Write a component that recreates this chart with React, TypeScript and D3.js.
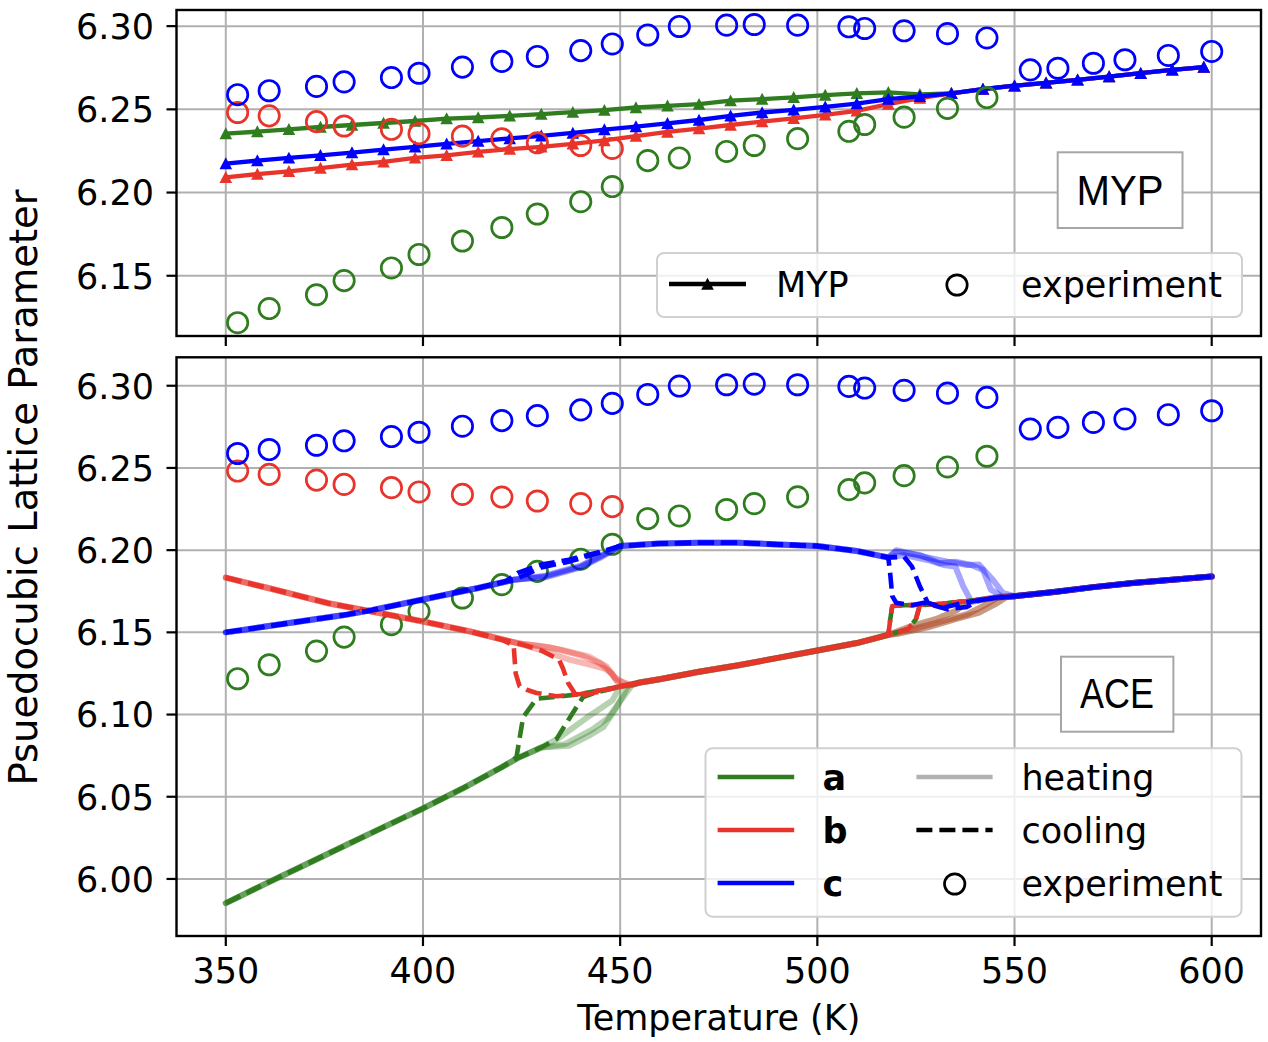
import React from 'react';
import * as d3 from 'd3';

// ---- data ----
const xTicks = [350, 400, 450, 500, 550, 600];
const topYTicks = [6.15, 6.2, 6.25, 6.3];
const botYTicks = [6.0, 6.05, 6.1, 6.15, 6.2, 6.25, 6.3];

// experiment (same in both panels)
const expT = [353, 361, 373, 380, 392, 399, 410, 420, 429, 440, 448, 457, 465, 477, 484, 495, 508, 512, 522, 533, 543, 554, 561, 570, 578, 589, 600];
const expA = [6.1218, 6.1303, 6.1386, 6.1471, 6.1547, 6.1628, 6.1709, 6.179, 6.1871, 6.1945, 6.2036, 6.2192, 6.2208, 6.2247, 6.2283, 6.2324, 6.2368, 6.2409, 6.2453, 6.2506, 6.2571];
const expB = [6.2481, 6.2461, 6.2426, 6.24, 6.238, 6.2354, 6.2339, 6.2323, 6.2299, 6.2283, 6.2265];
const expC = [6.2588, 6.2612, 6.2638, 6.2665, 6.2691, 6.2717, 6.2754, 6.2788, 6.2818, 6.2853, 6.2893, 6.2947, 6.2998, 6.3006, 6.301, 6.3006, 6.2996, 6.2986, 6.2972, 6.2955, 6.2929, 6.2737, 6.2747, 6.2777, 6.2798, 6.2824, 6.2848];

// MYP model
const mypT = [350, 358, 366, 374, 382, 390, 398, 406, 414, 422, 430, 438, 446, 454, 462, 470, 478, 486, 494, 502, 510, 518, 526, 534, 542, 550, 558, 566, 574, 582, 590, 598];
const mypA = [6.2354, 6.2366, 6.238, 6.2394, 6.2406, 6.2418, 6.243, 6.2444, 6.2451, 6.2461, 6.2471, 6.2483, 6.2495, 6.2511, 6.2521, 6.2531, 6.2552, 6.2562, 6.2572, 6.2586, 6.2596, 6.2602, 6.259, 6.2596, 6.2622, 6.2642, 6.2659, 6.2677, 6.2697, 6.2717, 6.2737, 6.2754];
const mypB = [6.2091, 6.2111, 6.2127, 6.2147, 6.2168, 6.2184, 6.2208, 6.2224, 6.2244, 6.2261, 6.2275, 6.2293, 6.2313, 6.2339, 6.2364, 6.2384, 6.2406, 6.2426, 6.2446, 6.2467, 6.2491, 6.2531, 6.2568, 6.2596, 6.2622, 6.2642, 6.2659, 6.2677, 6.2697, 6.2717, 6.2737, 6.2754];
const mypC = [6.2174, 6.2192, 6.2208, 6.2224, 6.224, 6.2258, 6.2275, 6.2293, 6.2309, 6.2325, 6.2341, 6.2358, 6.2378, 6.2396, 6.2416, 6.2436, 6.2461, 6.2481, 6.2497, 6.2515, 6.2535, 6.2562, 6.2578, 6.2596, 6.2622, 6.2642, 6.2659, 6.2677, 6.2697, 6.2717, 6.2737, 6.2754];

// ACE traces: shared segments [T, value]
type P = [number, number];
const aOrtho: P[] = [[350, 5.9853], [360, 5.997], [370, 6.0085], [380, 6.02], [390, 6.0315], [400, 6.0429], [410, 6.055], [420, 6.068], [424, 6.0735], [430, 6.08]];
const bOrtho: P[] = [[350, 6.1833], [361, 6.1768], [376, 6.1677], [387, 6.1627], [400, 6.1566], [412, 6.1505], [424, 6.1434]];
const cOrtho: P[] = [[350, 6.15], [360, 6.1535], [370, 6.157], [380, 6.1605], [387, 6.1635], [400, 6.17], [410, 6.175], [414, 6.177], [423, 6.182]];
const tetra: P[] = [[455, 6.1195], [460, 6.1215], [470, 6.126], [480, 6.13], [490, 6.1345], [500, 6.139], [510, 6.1435], [518, 6.1485]];
const cTetra: P[] = [[450, 6.2025], [460, 6.204], [470, 6.2045], [480, 6.2045], [490, 6.2035], [500, 6.2025], [505, 6.201], [510, 6.1995], [515, 6.197], [518, 6.1955]];
const cubic: P[] = [[550, 6.172], [560, 6.1745], [570, 6.1775], [580, 6.18], [590, 6.182], [600, 6.184]];

// heating runs (solid, faded)
const abUp1: P[] = [[524, 6.154], [530, 6.158], [535, 6.163], [538, 6.168], [542, 6.17], [545, 6.171]];
const abUp2: P[] = [[525, 6.1525], [532, 6.157], [538, 6.161], [542, 6.166], [546, 6.1715]];
const abUp3: P[] = [[520, 6.149], [528, 6.153], [535, 6.158], [541, 6.162], [545, 6.167], [548, 6.1715]];
const aHeat: P[][] = [
  [...aOrtho, [434, 6.085], [441.5, 6.098], [448, 6.1085], [450, 6.117], ...tetra, ...abUp1, ...cubic],
  [...aOrtho, [437, 6.081], [442, 6.087], [445.7, 6.0923], [449, 6.104], [452, 6.1175], ...tetra, ...abUp2, ...cubic],
  [...aOrtho, [436, 6.082], [443, 6.091], [447, 6.098], [450, 6.108], [453, 6.118], ...tetra, ...abUp3, ...cubic],
];
const bHeat: P[][] = [
  [...bOrtho, [430, 6.139], [437, 6.1335], [442, 6.1305], [446, 6.128], [448, 6.125], [450, 6.117], ...tetra, ...abUp1, ...cubic],
  [...bOrtho, [430, 6.1415], [435, 6.1395], [442, 6.1354], [446.5, 6.1293], [448.5, 6.123], [452, 6.1175], ...tetra, ...abUp2, ...cubic],
  [...bOrtho, [432, 6.141], [440, 6.136], [445, 6.131], [447, 6.127], [449, 6.121], [453, 6.118], ...tetra, ...abUp3, ...cubic],
];
const cHeat: P[][] = [
  [...cOrtho, [431, 6.184], [440, 6.19], [445, 6.196], ...cTetra, [522, 6.197], [528, 6.194], [532, 6.191], [535, 6.19], [537, 6.178], [539, 6.169], [542, 6.17], [545, 6.171], ...cubic],
  [...cOrtho, [431, 6.1845], [440, 6.1905], [445, 6.1965], ...cTetra, [520, 6.199], [526, 6.197], [531, 6.192], [535, 6.193], [539, 6.191], [542, 6.188], [544, 6.176], [547, 6.1715], ...cubic],
  [...cOrtho, [431, 6.1835], [440, 6.1895], [445, 6.1955], ...cTetra, [520, 6.2], [527, 6.196], [533, 6.193], [538, 6.191], [541, 6.1912], [544.5, 6.182], [547, 6.174], ...cubic],
];

// cooling runs (dashed)
const abDown1: P[] = [[518.5, 6.158], [519, 6.166], [522, 6.1665], [530, 6.167], [540, 6.1695], [545, 6.171]];
const abDown2: P[] = [[523, 6.152], [525, 6.158], [526, 6.1665], [530, 6.167], [540, 6.1695], [545, 6.171]];
const aCool: P[][] = [
  [...aOrtho.slice(0, 8), [423.7, 6.074], [425.4, 6.0984], [428.8, 6.1096], [435, 6.1111], [440, 6.1125], [450, 6.117], ...tetra, ...abDown1, ...cubic],
  [...aOrtho, [433.9, 6.0852], [437.3, 6.0984], [440.6, 6.1107], [444, 6.1135], [450, 6.117], ...tetra, ...abDown2, ...cubic],
];
const bCool: P[][] = [
  [...bOrtho.slice(0, 6), [420, 6.1455], [423, 6.142], [423.5, 6.125], [424.5, 6.1172], [426.3, 6.1151], [428.8, 6.1131], [433.9, 6.1111], [440, 6.1125], [450, 6.117], ...tetra, ...abDown1, ...cubic],
  [...bOrtho, [430, 6.139], [434.5, 6.1334], [435.5, 6.128], [436.8, 6.1192], [439, 6.111], [444, 6.1135], [450, 6.117], ...tetra, ...abDown2, ...cubic],
];
const cCool: P[][] = [
  [...cOrtho.slice(0, 8), [421, 6.181], [424, 6.1861], [430, 6.1912], [437, 6.1942], [445, 6.199], ...cTetra, [518.5, 6.185], [519, 6.172], [520, 6.168], [524, 6.1665], [527, 6.168], [533, 6.164], [538, 6.1655], [541, 6.1695], [545, 6.171], ...cubic],
  [...cOrtho, [426, 6.185], [430, 6.1895], [437, 6.193], [445, 6.1985], ...cTetra, [522, 6.196], [524, 6.19], [526, 6.178], [528, 6.168], [532, 6.165], [537, 6.168], [541, 6.1695], [545, 6.171], ...cubic],
];

// ---- styling ----
const GREEN = '#2f7d1f';
const RED = '#e8342a';
const BLUE = '#0000ff';
const GRID = '#b0b0b0';
const FONT = '"DejaVu Sans", sans-serif';
const BOXFONT = '"Liberation Sans", Arial, sans-serif';

const W = 1268;
const H = 1042;
const left = 176.5;
const right = 1261;
const top1 = 10, bot1 = 336;
const top2 = 357.3, bot2 = 936;
const R = 10.2;

const x = d3.scaleLinear().domain([337.5, 612.5]).range([left, right]);
const yTop = d3.scaleLinear().domain([6.1138, 6.3097]).range([bot1, top1]);
const yBot = d3.scaleLinear().domain([5.9653, 6.3173]).range([bot2, top2]);

const tri = (cx: number, cy: number, s = 6.3) =>
  `M${cx},${cy - s}L${cx - s},${cy + s * 0.9}L${cx + s},${cy + s * 0.9}Z`;

function Grid({ y, yTicks, y0, y1 }: { y: d3.ScaleLinear<number, number>; yTicks: number[]; y0: number; y1: number }) {
  return (
    <g>
      {xTicks.map(t => (
        <line key={'gx' + t} x1={x(t)} x2={x(t)} y1={y0} y2={y1} stroke={GRID} strokeWidth={2} />
      ))}
      {yTicks.map(t => (
        <line key={'gy' + t} x1={left} x2={right} y1={y(t)} y2={y(t)} stroke={GRID} strokeWidth={2} />
      ))}
    </g>
  );
}

function Frame({ y, yTicks, y0, y1, xLabels }: { y: d3.ScaleLinear<number, number>; yTicks: number[]; y0: number; y1: number; xLabels: boolean }) {
  return (
    <g>
      <rect x={left} y={y0} width={right - left} height={y1 - y0} fill="none" stroke="#000" strokeWidth={2.4} />
      {yTicks.map(t => (
        <g key={'ty' + t}>
          <line x1={left - 10} x2={left} y1={y(t)} y2={y(t)} stroke="#000" strokeWidth={2.2} />
          <text x={154} y={y(t) + 12.8} textAnchor="end" fontSize={35} fontFamily={FONT}>{t.toFixed(2)}</text>
        </g>
      ))}
      {xTicks.map(t => (
        <g key={'tx' + t}>
          <line x1={x(t)} x2={x(t)} y1={y1} y2={y1 + 10} stroke="#000" strokeWidth={2.2} />
          {xLabels && (
            <text x={x(t)} y={983} textAnchor="middle" fontSize={35} fontFamily={FONT}>{t}</text>
          )}
        </g>
      ))}
    </g>
  );
}

function Circles({ temps, vals, color, y }: { temps: number[]; vals: number[]; color: string; y: d3.ScaleLinear<number, number> }) {
  return (
    <g>
      {vals.map((v, i) => (
        <circle key={i} cx={x(temps[i])} cy={y(v)} r={R} fill="none" stroke={color} strokeWidth={2.7} />
      ))}
    </g>
  );
}

export default function App() {
  const mypLine = (vals: number[]) =>
    d3.line<number>().x((_, i) => x(mypT[i])).y(v => yTop(v))(vals) || '';
  const aceLine = d3.line<P>().x(d => x(d[0])).y(d => yBot(d[1]));

  const mypSeries = [
    { vals: mypA, color: GREEN },
    { vals: mypB, color: RED },
    { vals: mypC, color: BLUE },
  ];
  const heating = [
    { runs: aHeat, color: GREEN },
    { runs: bHeat, color: RED },
    { runs: cHeat, color: BLUE },
  ];
  const cooling = [
    { runs: aCool, color: GREEN },
    { runs: bCool, color: RED },
    { runs: cCool, color: BLUE },
  ];

  const legRows = [777, 830, 883];

  return (
    <svg width={W} height={H} style={{ position: 'absolute', left: 0, top: 0, background: '#fff' }}>
      <defs>
        <clipPath id="clipTop"><rect x={left} y={top1} width={right - left} height={bot1 - top1} /></clipPath>
        <clipPath id="clipBot"><rect x={left} y={top2} width={right - left} height={bot2 - top2} /></clipPath>
      </defs>
      <rect width={W} height={H} fill="#fff" />

      {/* ---------- top panel: MYP ---------- */}
      <Grid y={yTop} yTicks={topYTicks} y0={top1} y1={bot1} />
      <g clipPath="url(#clipTop)">
        {mypSeries.map(s => (
          <g key={s.color}>
            <path d={mypLine(s.vals)} fill="none" stroke={s.color} strokeWidth={4.3} />
            {s.vals.map((v, i) => (
              <path key={i} d={tri(x(mypT[i]), yTop(v))} fill={s.color} />
            ))}
          </g>
        ))}
        <Circles temps={expT} vals={expA} color={GREEN} y={yTop} />
        <Circles temps={expT} vals={expB} color={RED} y={yTop} />
        <Circles temps={expT} vals={expC} color={BLUE} y={yTop} />
      </g>
      <Frame y={yTop} yTicks={topYTicks} y0={top1} y1={bot1} xLabels={false} />

      {/* MYP label box */}
      <rect x={1057.7} y={152.3} width={124.8} height={75.7} fill="#fff" stroke="#a6a6a6" strokeWidth={2} />
      <text x={1120} y={205} textAnchor="middle" fontSize={42} fontFamily={BOXFONT} textLength={87} lengthAdjust="spacingAndGlyphs">MYP</text>

      {/* top legend */}
      <rect x={657} y={253} width={585} height={64} rx={7} fill="#fff" fillOpacity={0.8} stroke="#d0d0d0" strokeWidth={2} />
      <line x1={669} x2={746} y1={284} y2={284} stroke="#000" strokeWidth={4.3} />
      <path d={tri(707.5, 284)} fill="#000" />
      <text x={776} y={296.5} fontSize={35} fontFamily={FONT}>MYP</text>
      <circle cx={957} cy={285} r={R} fill="none" stroke="#000" strokeWidth={2.7} />
      <text x={1021} y={296.5} fontSize={35} fontFamily={FONT}>experiment</text>

      {/* ---------- bottom panel: ACE ---------- */}
      <Grid y={yBot} yTicks={botYTicks} y0={top2} y1={bot2} />
      <g clipPath="url(#clipBot)">
        <Circles temps={expT} vals={expA} color={GREEN} y={yBot} />
        <Circles temps={expT} vals={expB} color={RED} y={yBot} />
        <Circles temps={expT} vals={expC} color={BLUE} y={yBot} />
        {heating.map(s =>
          s.runs.map((r, i) => (
            <path key={s.color + 'h' + i} d={aceLine(r) || ''} fill="none" stroke={s.color} strokeOpacity={0.35}
              strokeWidth={6} strokeLinejoin="round" strokeLinecap="round" />
          ))
        )}
        {cooling.map(s =>
          s.runs.map((r, i) => (
            <path key={s.color + 'c' + i} d={aceLine(r) || ''} fill="none" stroke={s.color}
              strokeWidth={4.6} strokeDasharray="16,7" strokeLinejoin="round" />
          ))
        )}
      </g>
      <Frame y={yBot} yTicks={botYTicks} y0={top2} y1={bot2} xLabels={true} />

      {/* ACE label box */}
      <rect x={1061} y={656.7} width={112.4} height={75} fill="#fff" stroke="#a6a6a6" strokeWidth={2} />
      <text x={1117} y={708.3} textAnchor="middle" fontSize={42} fontFamily={BOXFONT} textLength={74} lengthAdjust="spacingAndGlyphs">ACE</text>

      {/* bottom legend */}
      <rect x={705.5} y={748.3} width={536} height={168.4} rx={7} fill="#fff" fillOpacity={0.8} stroke="#d0d0d0" strokeWidth={2} />
      {[GREEN, RED, BLUE].map((c, i) => (
        <g key={c}>
          <line x1={717.6} x2={794.2} y1={legRows[i]} y2={legRows[i]} stroke={c} strokeWidth={4.3} />
          <text x={822.5} y={legRows[i] + 13} fontSize={35} fontWeight="bold" fontFamily={FONT}>{['a', 'b', 'c'][i]}</text>
        </g>
      ))}
      <line x1={916.4} x2={992.6} y1={legRows[0]} y2={legRows[0]} stroke="#000" strokeOpacity={0.3} strokeWidth={4.3} />
      <line x1={916.4} x2={992.6} y1={legRows[1]} y2={legRows[1]} stroke="#000" strokeWidth={4.3} strokeDasharray="16,7" />
      <circle cx={954.7} cy={legRows[2] + 1} r={R} fill="none" stroke="#000" strokeWidth={2.7} />
      {['heating', 'cooling', 'experiment'].map((t, i) => (
        <text key={t} x={1021.4} y={legRows[i] + 13} fontSize={35} fontFamily={FONT}>{t}</text>
      ))}

      {/* axis labels */}
      <text x={(left + right) / 2} y={1030} textAnchor="middle" fontSize={35} fontFamily={FONT}>Temperature (K)</text>
      <text transform={`translate(37,487.5) rotate(-90)`} textAnchor="middle" fontSize={38.5} fontFamily={FONT}>Psuedocubic Lattice Parameter</text>
    </svg>
  );
}
